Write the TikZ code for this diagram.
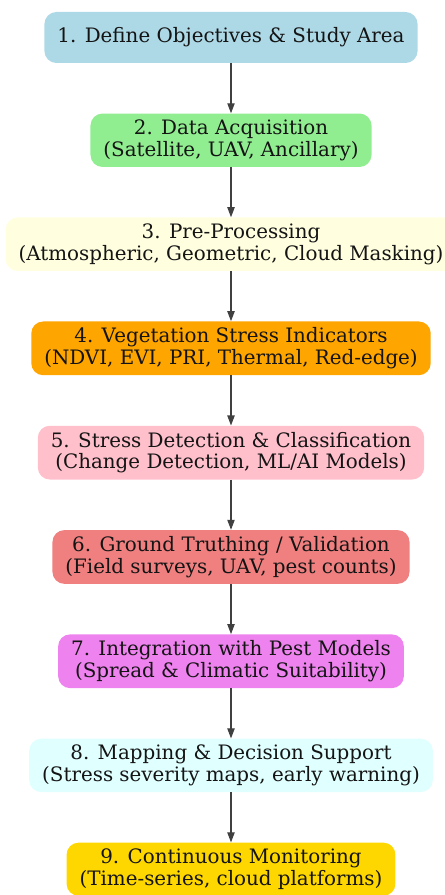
\documentclass[tikz,border=0pt]{standalone}
\usepackage{fontspec}
\setmainfont{DejaVu Serif}
\usetikzlibrary{arrows.meta,positioning}

\definecolor{lblue}{HTML}{ADD8E6}
\definecolor{lgreen}{HTML}{90EE90}
\definecolor{lyellow}{HTML}{FFFFE0}
\definecolor{orng}{HTML}{FFA500}
\definecolor{pnk}{HTML}{FFC0CB}
\definecolor{lcoral}{HTML}{F08080}
\definecolor{vlt}{HTML}{EE82EE}
\definecolor{lcyan}{HTML}{E0FFFF}
\definecolor{gld}{HTML}{FFD700}

\begin{document}
\begin{tikzpicture}[
  x=0.75pt, y=-0.75pt,
  stepbox/.style={rounded corners=9pt, minimum height=38.25pt,
    inner xsep=9.75pt, inner ysep=4.7pt, align=center,
    font=\fontsize{14.9}{16.3}\selectfont, text=black!92},
  arr/.style={-{Triangle[length=7.5pt,width=5.5pt]}, line width=0.8pt, draw=black!75}
]
\useasboundingbox (0,0) rectangle (444,895);

\node[stepbox, fill=lblue] (def) at (231,37.5) {1. Define Objectives \& Study Area};
\node[stepbox, fill=lgreen, below=37.5pt of def] (acq) {2. Data Acquisition\\(Satellite, UAV, Ancillary)};
\node[stepbox, fill=lyellow, below=37.5pt of acq] (pre) {3. Pre-Processing\\(Atmospheric, Geometric, Cloud Masking)};
\node[stepbox, fill=orng, below=37.5pt of pre] (ind) {4. Vegetation Stress Indicators\\(NDVI, EVI, PRI, Thermal, Red-edge)};
\node[stepbox, fill=pnk, below=37.5pt of ind] (det) {5. Stress Detection \& Classification\\(Change Detection, ML/AI Models)};
\node[stepbox, fill=lcoral, below=37.5pt of det] (val) {6. Ground Truthing / Validation\\(Field surveys, UAV, pest counts)};
\node[stepbox, fill=vlt, below=37.5pt of val] (pest) {7. Integration with Pest Models\\(Spread \& Climatic Suitability)};
\node[stepbox, fill=lcyan, below=37.5pt of pest] (map) {8. Mapping \& Decision Support\\(Stress severity maps, early warning)};
\node[stepbox, fill=gld, below=37.5pt of map] (mon) {9. Continuous Monitoring\\(Time-series, cloud platforms)};

\draw[arr] (def) -- (acq);
\draw[arr] (acq) -- (pre);
\draw[arr] (pre) -- (ind);
\draw[arr] (ind) -- (det);
\draw[arr] (det) -- (val);
\draw[arr] (val) -- (pest);
\draw[arr] (pest) -- (map);
\draw[arr] (map) -- (mon);
\end{tikzpicture}
\end{document}
